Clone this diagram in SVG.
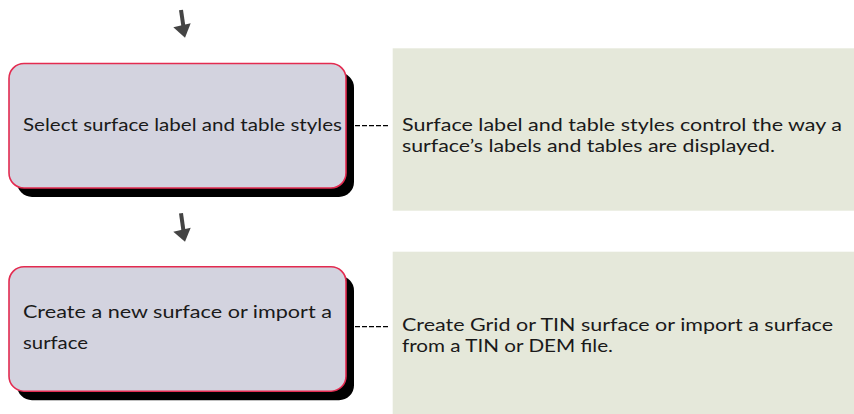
<svg xmlns="http://www.w3.org/2000/svg" width="854" height="414" viewBox="0 0 854 414">
  <defs>
    <style>
      .shadow { fill: #000000; }
      .step { fill: #d3d3df; stroke: #e32b50; stroke-width: 1.6; }
      .note { fill: #e5e8da; }
      .txt { font-family: Lato, "Open Sans", "Liberation Sans", sans-serif; font-size: 18px; fill: #1a1a1a; }
      .dash { stroke: #000000; stroke-width: 1.2; stroke-dasharray: 5 2; fill: none; }
      .shaft { stroke: #444444; stroke-width: 4; stroke-linecap: butt; fill: none; }
      .head { fill: #444444; }
    </style>
  </defs>
  <rect width="854" height="414" fill="#ffffff"/>

  <g id="step1">
    <rect class="shadow" x="17" y="72.5" width="337" height="124.5" rx="15" ry="15"/>
    <rect class="step" x="9" y="63.5" width="337" height="124.5" rx="15" ry="15"/>
    <text class="txt" x="23" y="131.3" textLength="319" lengthAdjust="spacingAndGlyphs">Select surface label and table styles</text>
  </g>

  <g id="note1">
    <rect class="note" x="392.7" y="48.3" width="461.3" height="162.4"/>
    <text class="txt" x="402" y="130.7" textLength="440" lengthAdjust="spacingAndGlyphs">Surface label and table styles control the way a</text>
    <text class="txt" x="402" y="151.7" textLength="373" lengthAdjust="spacingAndGlyphs">surface’s labels and tables are displayed.</text>
  </g>

  <g id="step2">
    <rect class="shadow" x="17" y="275.7" width="337" height="124.5" rx="15" ry="15"/>
    <rect class="step" x="9" y="266.7" width="337" height="124.5" rx="15" ry="15"/>
    <text class="txt" x="23" y="318.3" textLength="309" lengthAdjust="spacingAndGlyphs">Create a new surface or import a</text>
    <text class="txt" x="23" y="349.3" textLength="65" lengthAdjust="spacingAndGlyphs">surface</text>
  </g>

  <g id="note2">
    <rect class="note" x="392.7" y="251.7" width="461.3" height="162.3"/>
    <text class="txt" x="402" y="330.7" textLength="431" lengthAdjust="spacingAndGlyphs">Create Grid or TIN surface or import a surface</text>
    <text class="txt" x="402" y="351.7" textLength="211" lengthAdjust="spacingAndGlyphs">from a TIN or DEM file.</text>
  </g>

  <g id="connectors">
    <line class="shaft" x1="181" y1="10" x2="183.5" y2="27"/>
    <polygon class="head" points="173.3,27.3 190.7,23.3 185,37.7"/>
    <line class="shaft" x1="181" y1="213.3" x2="183.5" y2="231"/>
    <polygon class="head" points="173.3,231.7 190.7,227.7 185,241.7"/>
    <line class="dash" x1="355" y1="125.7" x2="390" y2="125.7"/>
    <line class="dash" x1="355" y1="326.7" x2="390" y2="326.7"/>
  </g>
</svg>
